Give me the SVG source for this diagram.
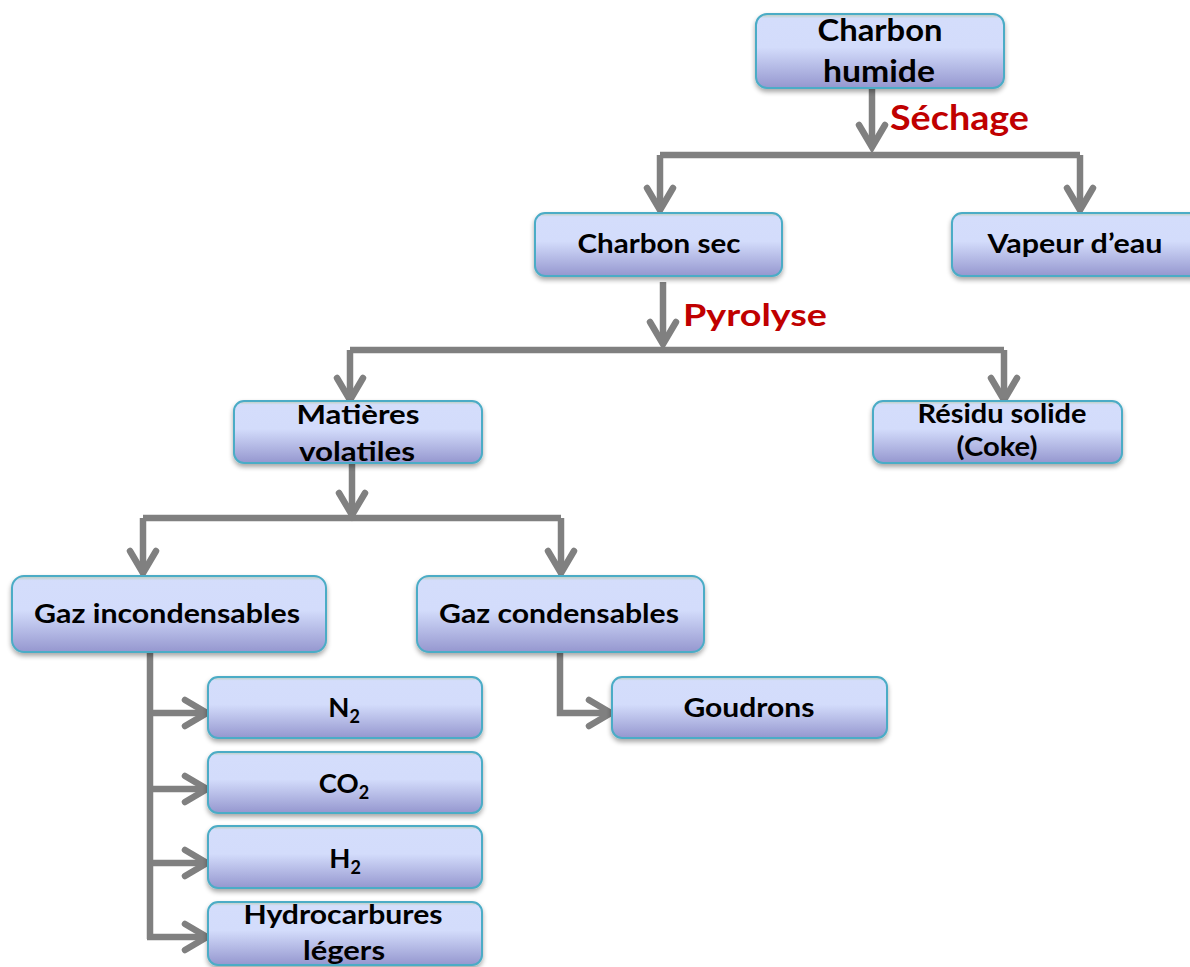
<svg xmlns="http://www.w3.org/2000/svg" width="1190" height="967" viewBox="0 0 1190 967">
<defs>
<linearGradient id="boxg" x1="0" y1="0" x2="0" y2="1">
<stop offset="0" stop-color="#b9cdb9"/>
<stop offset="0.06" stop-color="#d4ddfb"/>
<stop offset="0.45" stop-color="#d3dcfb"/>
<stop offset="1" stop-color="#9597cf"/>
</linearGradient>
<filter id="sh" x="-10%" y="-10%" width="120%" height="140%">
<feGaussianBlur in="SourceAlpha" stdDeviation="2.5"/>
<feOffset dx="0" dy="3" result="b"/>
<feComponentTransfer><feFuncA type="linear" slope="0.35"/></feComponentTransfer>
<feMerge><feMergeNode/><feMergeNode in="SourceGraphic"/></feMerge>
</filter>
<marker id="arr" markerUnits="userSpaceOnUse" markerWidth="40" markerHeight="40" viewBox="-30 -20 40 40" refX="0" refY="0" orient="auto">
<path d="M-22,-13 L0,0 L-22,13" fill="none" stroke="#808080" stroke-width="6.5" stroke-linecap="round" stroke-linejoin="miter"/>
</marker>
</defs>
<style>
.box{fill:url(#boxg);stroke:#4bacc6;stroke-width:2;filter:url(#sh)}
.t{font-family:Lato,"Open Sans","Liberation Sans",sans-serif;font-weight:bold;font-size:27.5px;fill:#000;text-anchor:middle}
.big{font-size:29.5px}
.lbl{font-family:Lato,"Open Sans","Liberation Sans",sans-serif;font-weight:bold;fill:#c00000}
.c{fill:none;stroke:#808080;stroke-width:6.5}
.a{marker-end:url(#arr)}
.sub{font-size:18px}
</style>
<g id="connectors">
<path class="c a" d="M872,88 V147"/>
<path class="c" d="M660,155 H1080"/>
<path class="c a" d="M660,155 V210"/>
<path class="c a" d="M1080,155 V210"/>
<path class="c a" d="M663,282 V344"/>
<path class="c" d="M350,350 H1004"/>
<path class="c a" d="M350,350 V400"/>
<path class="c a" d="M1004,350 V400"/>
<path class="c a" d="M352,463 V515"/>
<path class="c" d="M143,518 H561"/>
<path class="c a" d="M143,518 V573"/>
<path class="c a" d="M561,518 V573"/>
<path class="c" d="M150,652 V939"/>
<path class="c a" d="M150,713 H207"/>
<path class="c a" d="M150,789 H207"/>
<path class="c a" d="M150,863 H207"/>
<path class="c a" d="M147,937 H207"/>
<path class="c a" d="M560,652 V713 H611"/>
<text class="lbl" x="890" y="130" font-size="33.5" textLength="139" lengthAdjust="spacingAndGlyphs">Séchage</text>
<text class="lbl" x="683" y="326" font-size="30" textLength="144" lengthAdjust="spacingAndGlyphs">Pyrolyse</text>
</g>
<g id="charbon-humide">
<rect class="box" x="756" y="14" width="248" height="74" rx="11"/>
<text class="t big" x="880" y="41" textLength="125" lengthAdjust="spacingAndGlyphs">Charbon</text>
<text class="t big" x="879" y="82" textLength="112" lengthAdjust="spacingAndGlyphs">humide</text>
</g>
<g id="charbon-sec">
<rect class="box" x="535" y="213" width="247" height="63" rx="10"/>
<text class="t" x="659" y="253" textLength="163" lengthAdjust="spacingAndGlyphs">Charbon sec</text>
</g>
<g id="vapeur">
<rect class="box" x="952" y="213" width="250" height="63" rx="10"/>
<text class="t" x="1075" y="253" textLength="175" lengthAdjust="spacingAndGlyphs">Vapeur d’eau</text>
</g>
<g id="matieres">
<rect class="box" x="234" y="401" width="248" height="62" rx="10"/>
<text class="t" x="358" y="424" textLength="123" lengthAdjust="spacingAndGlyphs">Matières</text>
<text class="t" x="357" y="461" textLength="116" lengthAdjust="spacingAndGlyphs">volatiles</text>
</g>
<g id="residu">
<rect class="box" x="873" y="401" width="249" height="62" rx="10"/>
<text class="t" x="1002" y="423" textLength="169" lengthAdjust="spacingAndGlyphs">Résidu solide</text>
<text class="t" x="997" y="456" textLength="81" lengthAdjust="spacingAndGlyphs">(Coke)</text>
</g>
<g id="gaz-incondensables">
<rect class="box" x="12" y="576" width="314" height="76" rx="12"/>
<text class="t" x="167" y="623" textLength="266" lengthAdjust="spacingAndGlyphs">Gaz incondensables</text>
</g>
<g id="gaz-condensables">
<rect class="box" x="417" y="576" width="287" height="76" rx="12"/>
<text class="t" x="559" y="623" textLength="240" lengthAdjust="spacingAndGlyphs">Gaz condensables</text>
</g>
<g id="goudrons">
<rect class="box" x="612" y="677" width="275" height="61" rx="10"/>
<text class="t" x="749" y="717" textLength="131" lengthAdjust="spacingAndGlyphs">Goudrons</text>
</g>
<g id="n2">
<rect class="box" x="208" y="677" width="274" height="61" rx="10"/>
<text class="t" x="344" y="717">N<tspan class="sub" dy="6">2</tspan></text>
</g>
<g id="co2">
<rect class="box" x="208" y="752" width="274" height="61" rx="10"/>
<text class="t" x="344" y="793">CO<tspan class="sub" dy="6">2</tspan></text>
</g>
<g id="h2">
<rect class="box" x="208" y="826" width="274" height="62" rx="10"/>
<text class="t" x="345" y="868">H<tspan class="sub" dy="6">2</tspan></text>
</g>
<g id="hydrocarbures">
<rect class="box" x="208" y="902" width="274" height="63" rx="10"/>
<text class="t" x="343" y="924" textLength="199" lengthAdjust="spacingAndGlyphs">Hydrocarbures</text>
<text class="t" x="344" y="960" textLength="82" lengthAdjust="spacingAndGlyphs">légers</text>
</g>
</svg>
